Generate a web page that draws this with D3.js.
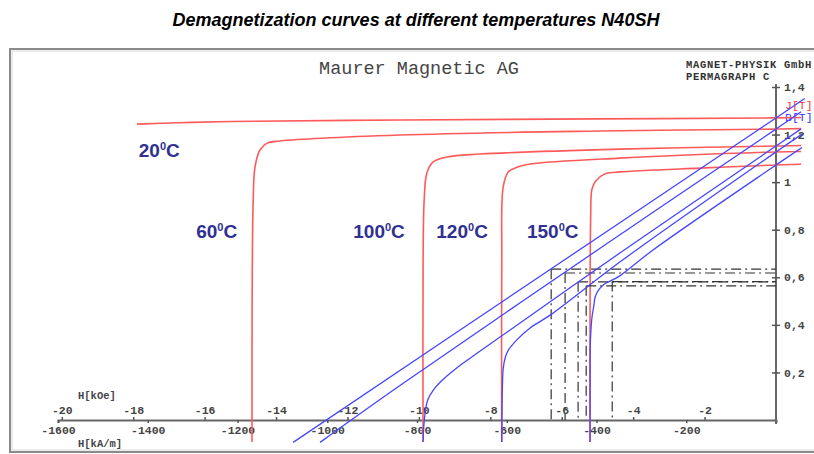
<!DOCTYPE html>
<html>
<head>
<meta charset="utf-8">
<script src="https://cdn.jsdelivr.net/npm/d3@7"></script>
<style>
  body { margin: 0; background: #fff; }
  svg { display: block; }
</style>
</head>
<body>
<svg id="chart"></svg>
<script>
const W = 814, H = 454;

// ---- data (H in kA/m, J / B in T) ----
const temps = ['20', '60', '100', '120', '150'];

const J20  = [[-1424,1.244],[-1330,1.250],[-1215,1.255],[-838,1.261],[-400,1.266],[0,1.270],[56,1.272]];
const J60  = [[-1167.6,-0.092],[-1167.4,0.50],[-1165,0.925],[-1161,1.063],[-1150,1.135],[-1134,1.164],[-1105,1.173],[-838,1.198],[-392,1.215],[0,1.223],[56,1.225]];
const J100 = [[-786.5,-0.092],[-786.4,0.673],[-784,0.925],[-778,1.038],[-764,1.085],[-733,1.106],[-660,1.118],[-348,1.139],[0,1.152],[56,1.154]];
const J120 = [[-611.2,-0.092],[-611.1,0.673],[-608,0.979],[-597,1.042],[-577,1.063],[-548,1.076],[-348,1.101],[0,1.127],[56,1.129]];
const J150 = [[-414.4,-0.092],[-414.3,0.50],[-413,0.85],[-410.6,0.967],[-405,0.995],[-399.5,1.009],[-390,1.025],[-377,1.037],[-348,1.043],[-169,1.059],[0,1.072],[56,1.075]];

const B20  = [[-1076,-0.094],[-500,0.637],[0,1.270],[64,1.352]];
const B60  = [[-1016,-0.094],[-838,0.145],[-392,0.722],[0,1.223],[56,1.296]];
const B100 = [[-786.5,-0.092],[-785,-0.03],[-781,0.04],[-776,0.085],[-764,0.125],[-742,0.17],[-700,0.235],[-660,0.289],[-348,0.702],[0,1.152],[56,1.224]];
const B120 = [[-611.2,-0.092],[-610.5,0.05],[-609.5,0.15],[-608,0.215],[-603,0.265],[-597,0.292],[-577,0.338],[-548,0.387],[-500,0.445],[-348,0.664],[0,1.127],[58,1.202]];
const B150 = [[-414.4,-0.092],[-414.3,0.2],[-414,0.307],[-412,0.39],[-410,0.433],[-406,0.48],[-403,0.517],[-396,0.545],[-385.5,0.567],[-348,0.606],[-274,0.715],[0,1.072],[58,1.146]];

// (BH)max working points
const bhH = [-501, -470, -441, -423, -365];
const bhB = [0.634, 0.618, 0.581, 0.564, 0.582];

const kAmTicks = [-1600,-1400,-1200,-1000,-800,-600,-400,-200];
const kOeTicks = [-20,-18,-16,-14,-12,-10,-8,-6,-4,-2];
const teslaTicks = [0.2,0.4,0.6,0.8,1.0,1.2,1.4];

// label anchor points for temperatures (in data units)
const labelH = [-1420, -1292, -942, -757, -555];
const labelJ = [1.105, 0.765, 0.765, 0.765, 0.765];

const svg = d3.select('#chart').attr('width', W).attr('height', H);

const x = d3.scaleLinear().domain([-1600, 0]).range([58, 776]);
const y = d3.scaleLinear().domain([0, 1.4]).range([420, 87]);
const xOe = d3.scaleLinear().domain([-1600/79.5775, 0]).range(x.range());

const mono = '"Liberation Mono", "Courier New", monospace';

// title
svg.append('text')
  .attr('x', 416).attr('y', 26)
  .attr('text-anchor', 'middle')
  .attr('font-family', 'Liberation Sans, Arial, sans-serif')
  .attr('font-size', 18).attr('font-weight', 'bold').attr('font-style', 'italic')
  .attr('fill', '#000')
  .text('Demagnetization curves at different temperatures N40SH');

// frame
svg.append('rect')
  .attr('x', 10).attr('y', 49).attr('width', 820).attr('height', 403)
  .attr('fill', 'none').attr('stroke', '#8a8a8a').attr('stroke-width', 2);
svg.append('rect')
  .attr('x', 12).attr('y', 51).attr('width', 820).attr('height', 399)
  .attr('fill', 'none').attr('stroke', '#d8d8d8').attr('stroke-width', 1);

// header texts
svg.append('text')
  .attr('x', 419).attr('y', 74).attr('text-anchor', 'middle')
  .attr('font-family', mono).attr('font-size', 18.5).attr('fill', '#444')
  .text('Maurer Magnetic AG');
svg.append('text')
  .attr('x', 686).attr('y', 68)
  .attr('font-family', mono).attr('font-size', 10.5).attr('letter-spacing', 0.7)
  .attr('font-weight', 'bold').attr('fill', '#333')
  .text('MAGNET-PHYSIK GmbH');
svg.append('text')
  .attr('x', 686).attr('y', 80)
  .attr('font-family', mono).attr('font-size', 10.5).attr('letter-spacing', 0.7)
  .attr('font-weight', 'bold').attr('fill', '#333')
  .text('PERMAGRAPH C');

// axes //////////////////////
const gAm = svg.append('g').attr('transform', 'translate(0,420)')
  .call(d3.axisBottom(x).tickValues(kAmTicks).tickSize(3).tickPadding(3).tickFormat(d => String(d)));
const gOe = svg.append('g').attr('transform', 'translate(0,420)')
  .call(d3.axisTop(xOe).tickValues(kOeTicks).tickSize(3).tickPadding(3).tickFormat(d => String(d)));
gOe.select('.domain').remove();
gAm.select('.domain').attr('stroke', '#666').attr('stroke-width', 2);

const gT = svg.append('g').attr('transform', 'translate(776,0)')
  .call(d3.axisRight(y).tickValues(teslaTicks).tickSize(4).tickPadding(4)
    .tickFormat(d => d === 1 ? '1' : d3.format('.1f')(d).replace('.', ',')));
gT.select('.domain').attr('d', 'M0,84V424').attr('stroke', '#666').attr('stroke-width', 2);
gT.selectAll('.tick line').attr('x1', -4);

[gAm, gOe, gT].forEach(g => {
  g.selectAll('.tick line').attr('stroke', '#555').attr('stroke-width', 1.5);
  g.selectAll('.tick text')
    .attr('font-family', mono).attr('font-size', 11.5).attr('font-weight', 'bold').attr('fill', '#444');
});

svg.append('text').attr('x', 78).attr('y', 399)
  .attr('font-family', mono).attr('font-size', 10.5).attr('font-weight', 'bold').attr('fill', '#444')
  .text('H[kOe]');
svg.append('text').attr('x', 78).attr('y', 447)
  .attr('font-family', mono).attr('font-size', 10.5).attr('font-weight', 'bold').attr('fill', '#444')
  .text('H[kA/m]');

svg.append('text').attr('x', 785).attr('y', 109)
  .attr('font-family', mono).attr('font-size', 11.5).attr('fill', '#ff3333')
  .text('J[T]');
svg.append('text').attr('x', 785).attr('y', 121)
  .attr('font-family', mono).attr('font-size', 11.5).attr('fill', '#3333ff')
  .text('B[T]');

// curves /////////////////////
const line = d3.line()
  .x(d => x(d[0]))
  .y(d => y(d[1]))
  .curve(d3.curveCatmullRom.alpha(0.5));

const jCurves = [J20, J60, J100, J120, J150];
const bCurves = [B20, B60, B100, B120, B150];

svg.selectAll('.j-curve').data(jCurves).enter()
  .append('path').attr('class', 'j-curve')
  .attr('d', line)
  .attr('fill', 'none').attr('stroke', '#ff5a5a').attr('stroke-width', 1.6);

// (BH)max helper lines
const bh = bhH.map((h, i) => ({h: h, b: bhB[i]}));
svg.selectAll('.bh-v').data(bh).enter()
  .append('line').attr('class', 'bh-v')
  .attr('x1', d => x(d.h)).attr('x2', d => x(d.h))
  .attr('y1', d => y(d.b)).attr('y2', y(0))
  .attr('stroke', '#333').attr('stroke-width', 1.2)
  .attr('stroke-dasharray', '10,4,2,4');
svg.selectAll('.bh-h').data(bh).enter()
  .append('line').attr('class', 'bh-h')
  .attr('x1', d => x(d.h)).attr('x2', x(0))
  .attr('y1', d => y(d.b)).attr('y2', d => y(d.b))
  .attr('stroke', '#333').attr('stroke-width', 1.2)
  .attr('stroke-dasharray', '10,4,2,4');

svg.selectAll('.b-curve').data(bCurves).enter()
  .append('path').attr('class', 'b-curve')
  .attr('d', line)
  .attr('fill', 'none').attr('stroke', '#4545ff').attr('stroke-width', 1.3);

// temperature labels
const lbl = svg.selectAll('.t-label').data(temps).enter()
  .append('text').attr('class', 't-label')
  .attr('x', (d, i) => x(labelH[i]))
  .attr('y', (d, i) => y(labelJ[i]))
  .attr('font-family', 'Liberation Sans, Arial, sans-serif')
  .attr('font-size', 19).attr('font-weight', 'bold').attr('fill', '#2e3192');
lbl.append('tspan').text(d => d.slice(0, -1));
lbl.append('tspan').text(d => d.slice(-1));
lbl.append('tspan').attr('font-size', 11).attr('dy', -7).text('0');
lbl.append('tspan').attr('dy', 7).text('C');
</script>
</body>
</html>
